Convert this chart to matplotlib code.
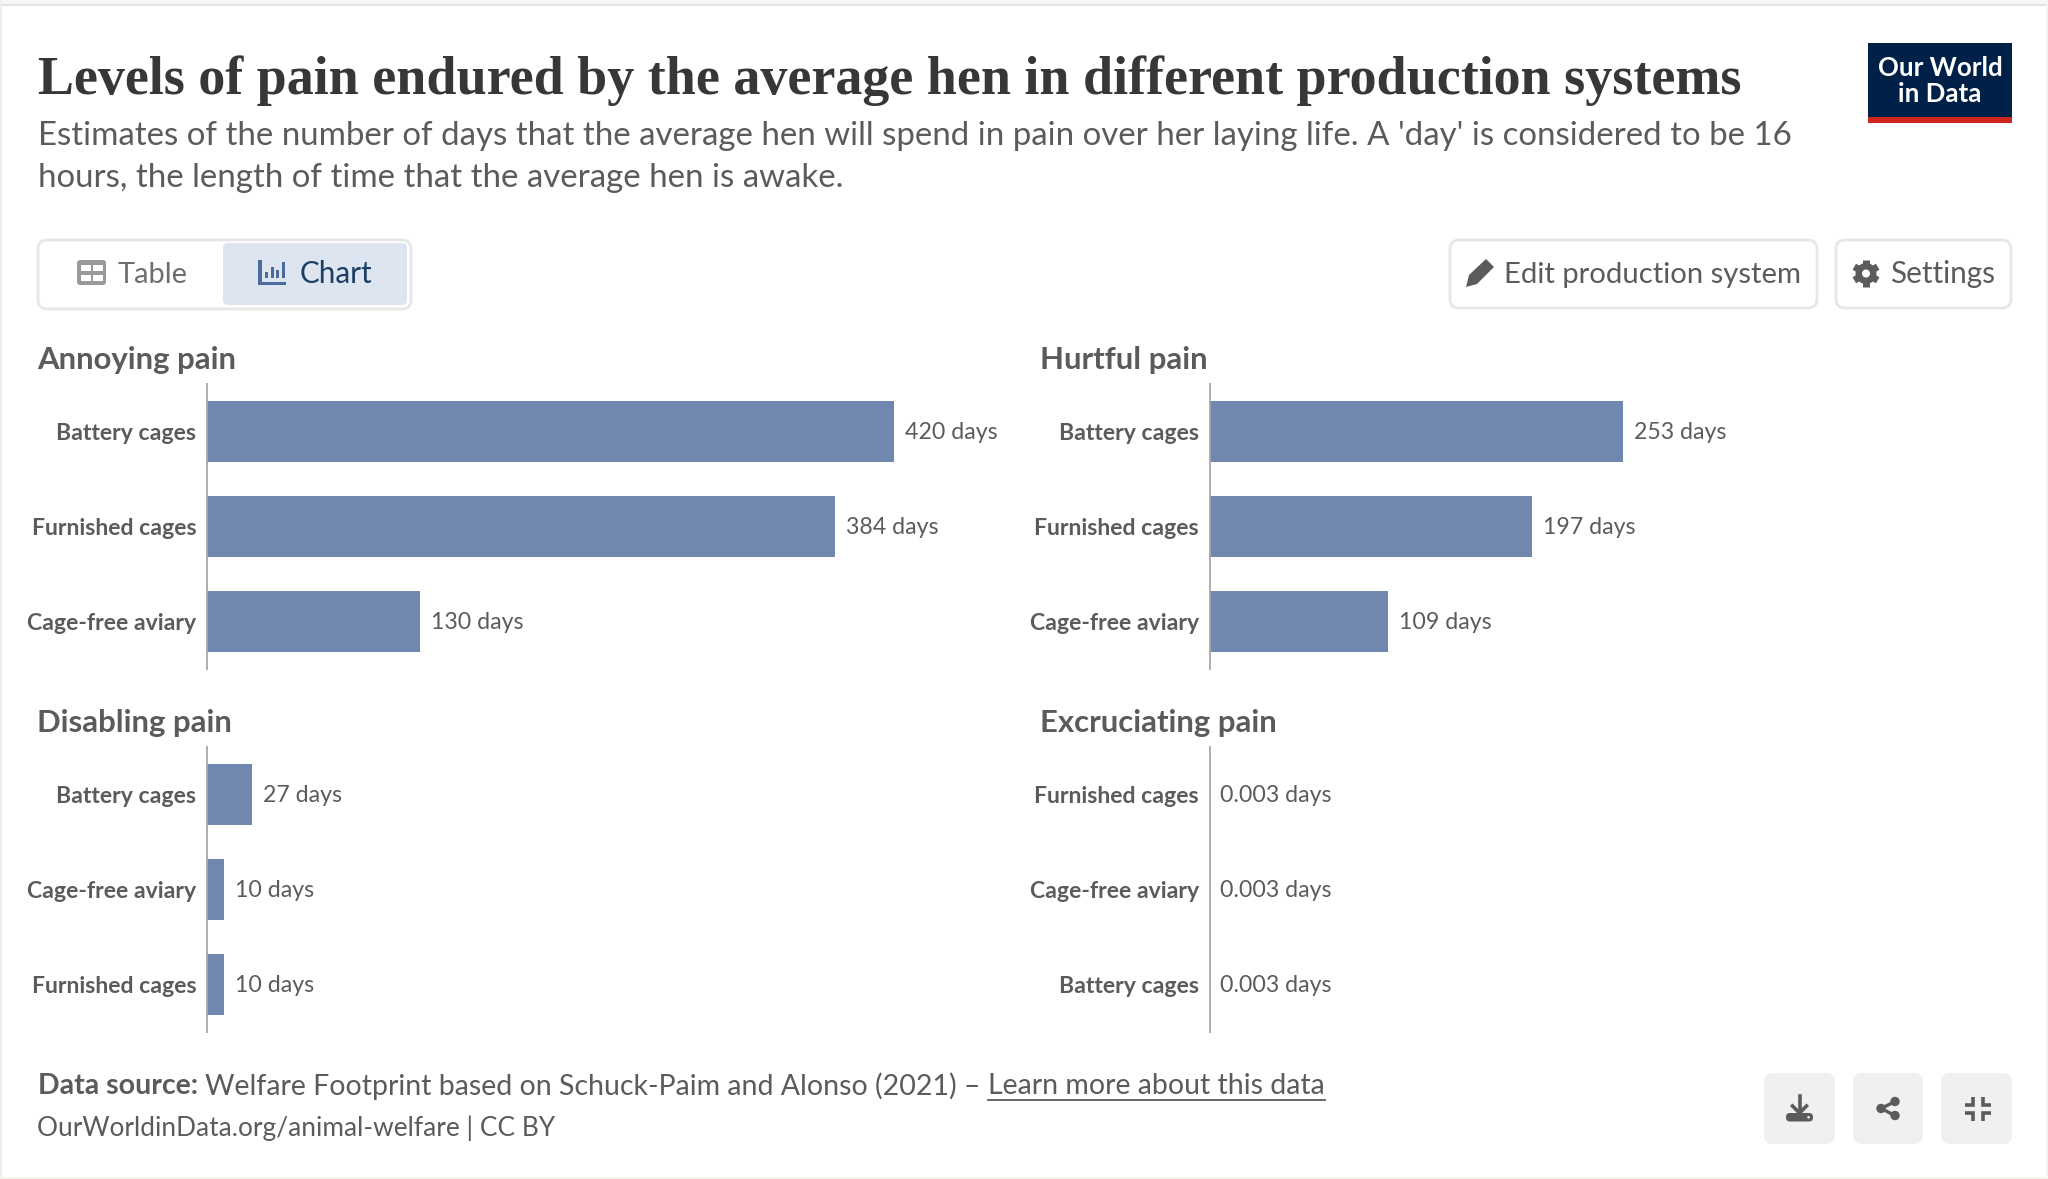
import matplotlib
matplotlib.use("Agg")
import matplotlib.pyplot as plt
from matplotlib.patches import FancyBboxPatch, Rectangle, Circle, Polygon
import numpy as np

W, H = 2048, 1179

# ---- data ----
title = "Levels of pain endured by the average hen in different production systems"
subtitle_1 = "Estimates of the number of days that the average hen will spend in pain over her laying life. A 'day' is considered to be 16"
subtitle_2 = "hours, the length of time that the average hen is awake."

annoying_labels = ["Battery cages", "Furnished cages", "Cage-free aviary"]
annoying_values = [420, 384, 130]
annoying_text = ["420 days", "384 days", "130 days"]

hurtful_labels = ["Battery cages", "Furnished cages", "Cage-free aviary"]
hurtful_values = [253, 197, 109]
hurtful_text = ["253 days", "197 days", "109 days"]

disabling_labels = ["Battery cages", "Cage-free aviary", "Furnished cages"]
disabling_values = [27.6, 10.4, 10.4]
disabling_text = ["27 days", "10 days", "10 days"]

excruciating_labels = ["Furnished cages", "Cage-free aviary", "Battery cages"]
excruciating_values = [0.003, 0.003, 0.003]
excruciating_text = ["0.003 days", "0.003 days", "0.003 days"]

BAR = "#7088B0"
TXT = "#5b5b5b"
FONT = "Lato"

fig = plt.figure(figsize=(W / 100, H / 100), dpi=100, facecolor="white")
bg = fig.add_axes([0, 0, 1, 1], zorder=0)
bg.set_xlim(0, W)
bg.set_ylim(H, 0)
bg.axis("off")


def rrect(x0, y0, x1, y1, r=6, fc="white", ec="none", lw=0, z=1):
    p = FancyBboxPatch((x0 + r, y0 + r), x1 - x0 - 2 * r, y1 - y0 - 2 * r,
                       boxstyle=f"round,pad={r},rounding_size={r}",
                       fc=fc, ec=ec, lw=lw, zorder=z)
    bg.add_patch(p)
    return p


def t(x, y, s, size, color=TXT, weight="normal", ha="left", va="baseline", family=FONT):
    return bg.text(x, y, s, fontsize=size, color=color, fontweight=weight, ha=ha, va=va,
                   family=family, zorder=5)


# page edges
bg.add_patch(Rectangle((0, 4), W, 2, fc="#e4e4e4", ec="none"))
bg.add_patch(Rectangle((0, 0), W, 4, fc="#f6f6f6", ec="none"))
bg.add_patch(Rectangle((0, 0), 2, H, fc="#eeeeee", ec="none"))
bg.add_patch(Rectangle((2046, 0), 2, H, fc="#f4f4f4", ec="none"))
bg.add_patch(Rectangle((0, 1177), W, 2, fc="#f3f7e6", ec="none"))

# header
t(38, 94.5, title, 38.9, color="#373737", weight="bold", family="Liberation Serif")
t(37.5, 145, subtitle_1, 23.73)
t(37.5, 187, subtitle_2, 23.73)

# logo
bg.add_patch(Rectangle((1868, 43), 144, 80, fc="#002147", ec="none"))
bg.add_patch(Rectangle((1868, 116.5), 144, 6.5, fc="#ce261e", ec="none"))
t(1940, 76.5, "Our World", 18.6, color="white", weight="bold", ha="center")
t(1940, 102.5, "in Data", 18.6, color="white", weight="bold", ha="center")

# toggle
rrect(38, 240, 411, 309, r=9, fc="white", ec="#e7e7e7", lw=2)
rrect(223, 243, 407, 305, r=5, fc="#dce5f0")
rrect(77, 260, 106, 285, r=3, fc="#9a9a9a")
for cx in (81, 93):
    for cy in (265, 275):
        bg.add_patch(Rectangle((cx, cy), 9.5, 6, fc="white", ec="none", zorder=2))
t(118, 283, "Table", 20.9, color="#6e6e6e")
CH = "#4C6A9C"
bg.add_patch(Rectangle((258, 260), 3.6, 25, fc=CH, ec="none", zorder=2))
bg.add_patch(Rectangle((258, 281.5), 28, 3.6, fc=CH, ec="none", zorder=2))
for x_, y_ in ((265, 272), (270.5, 267), (276, 270), (281.5, 262)):
    bg.add_patch(Rectangle((x_, y_), 3.2, 278 - y_, fc=CH, ec="none", zorder=2))
t(300, 283, "Chart", 21.3, color="#1d3d63")

# buttons
rrect(1450, 240, 1817, 308, r=9, fc="white", ec="#e7e7e7", lw=2)
rrect(1836, 240, 2011, 308, r=9, fc="white", ec="#e7e7e7", lw=2)
bg.add_patch(Polygon([(1466, 287), (1469, 275), (1486, 259), (1494, 267), (1477, 284)],
                     closed=True, fc="#5b5b5b", ec="none", zorder=2))
t(1504, 283, "Edit production system", 21.1, color="#5b5b5b")
gx, gy = 1866, 273.5
for a in np.arange(0, 360, 60):
    rad = np.deg2rad(a + 30)
    bg.plot([gx, gx + 13.5 * np.cos(rad)], [gy, gy + 13.5 * np.sin(rad)],
            color="#5b5b5b", lw=5, solid_capstyle="butt", zorder=2)
bg.add_patch(Circle((gx, gy), 10.5, fc="#5b5b5b", ec="none", zorder=3))
bg.add_patch(Circle((gx, gy), 4, fc="white", ec="none", zorder=4))
t(1890, 283, "Settings", 21.4, color="#5b5b5b")


# ---- panels ----
def panel(left, top, bottom, name, labels, values, texts):
    width = 687
    ax = fig.add_axes([left / W, 1 - bottom / H, width / W, (bottom - top) / H], zorder=2)
    ax.patch.set_alpha(0)
    y = np.arange(len(values))
    ax.barh(y, values, height=0.64, color=BAR)
    ax.set_xlim(0, 420)
    ax.set_ylim(2.495, -0.495)
    ax.set_yticks(y)
    ax.set_yticklabels(labels, fontsize=16.55, fontweight="bold", color=TXT, family=FONT)
    ax.tick_params(axis="y", length=0, pad=7.6)
    ax.set_xticks([])
    for s in ("top", "right", "bottom"):
        ax.spines[s].set_visible(False)
    ax.spines["left"].set_color("#a8a8a8")
    ax.spines["left"].set_linewidth(1.3)
    for yi, v, s in zip(y, values, texts):
        ax.annotate(s, (v, yi), xytext=(7.9, -0.6), textcoords="offset points", va="center",
                    ha="left", fontsize=16.65, color=TXT, family=FONT, annotation_clip=False)
    bg.text(left - 170, top - 15, name, fontsize=22.4,
            fontweight="bold", color=TXT, family=FONT, zorder=5)
    return ax


panel(207, 384, 669, "Annoying pain", annoying_labels, annoying_values, annoying_text)
panel(1209.5, 384, 669, "Hurtful pain", hurtful_labels, hurtful_values, hurtful_text)
panel(207, 747, 1032, "Disabling pain", disabling_labels, disabling_values, disabling_text)
panel(1209.5, 747, 1032, "Excruciating pain", excruciating_labels, excruciating_values, excruciating_text)

# footer
t(37.5, 1094.5, "Data source:", 20.5, weight="bold")
t(205, 1094.5, "Welfare Footprint based on Schuck-Paim and Alonso (2021) \u2013", 20.5)
t(987.5, 1094.5, "Learn more about this data", 20.5)
bg.plot([987.5, 1325], [1100, 1100], color=TXT, lw=1.3, zorder=5)
t(37, 1136, "OurWorldinData.org/animal-welfare | CC BY", 18.9)

# footer buttons
for x0, x1 in ((1764, 1835), (1853, 1923), (1941, 2012)):
    rrect(x0, 1073, x1, 1144, r=9, fc="#f0f0f0")
IC = "#5b5b5b"
# download
rrect(1786, 1113, 1813, 1121.5, r=4, fc=IC, z=3)
bg.plot([1799.5, 1799.5], [1096, 1112], color=IC, lw=2.6, zorder=4)
bg.plot([1792.5, 1799.5, 1806.5], [1106, 1113, 1106], color=IC, lw=2.6, zorder=4)
bg.add_patch(Circle((1808.5, 1117.3), 1.3, fc="#f0f0f0", ec="none", zorder=5))
# share
for c in ((1881, 1108.5), (1895, 1101.5), (1895, 1115.5)):
    bg.add_patch(Circle(c, 4.7, fc=IC, ec="none", zorder=3))
bg.plot([1895, 1881, 1895], [1101.5, 1108.5, 1115.5], color=IC, lw=2.4, zorder=3)
# compress
for cx, cy, sx, sy in ((1973, 1105, -1, -1), (1983, 1105, 1, -1), (1973, 1113, -1, 1), (1983, 1113, 1, 1)):
    bg.plot([cx + sx * 8, cx, cx], [cy, cy, cy + sy * 8], color=IC, lw=2.6,
            solid_joinstyle="miter", solid_capstyle="butt", zorder=3)

fig.savefig("out.png", dpi=100, facecolor="white")
